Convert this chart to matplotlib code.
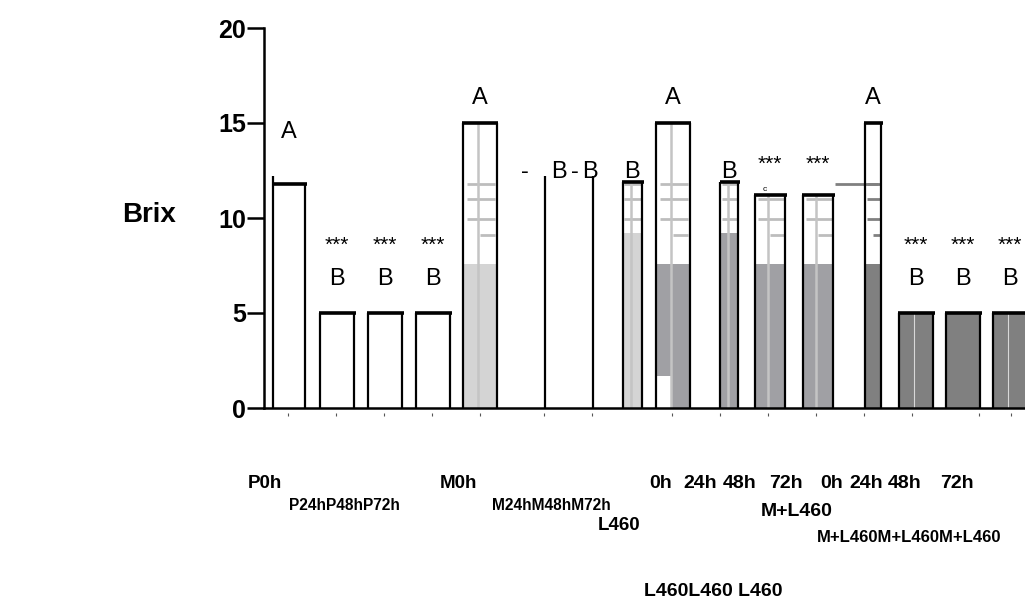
import matplotlib
matplotlib.use("Agg")
import matplotlib.pyplot as plt
from matplotlib.transforms import blended_transform_factory

# ---------------- data ----------------
groups = ["P0h", "P24h", "P48h", "P72h", "M0h", "M24h", "M48h",
          "L460 0h", "L460 24h", "L460 48h", "L460 72h",
          "M+L460 0h", "M+L460 24h", "M+L460 48h", "M+L460 72h", "extra"]
outline_top = [11.8, 5.0, 5.0, 5.0, 15.0, 12.2, 12.2,
               11.9, 15.0, 11.9, 11.2, 11.2, 15.0, 5.0, 5.0, 5.0]
fill_top = [0, 0, 0, 0, 7.6, 0, 0,
            9.2, 7.6, 9.2, 7.6, 7.6, 7.6, 5.0, 5.0, 5.0]
fill_color = ["white", "white", "white", "white", "#d4d4d4", "white", "white",
              "#d4d4d4", "#a0a0a4", "#a0a0a4", "#a0a0a4", "#a0a0a4",
              "#808080", "#808080", "#808080", "#808080"]
has_cap = [True, True, True, True, True, False, False,
           True, True, True, True, True, True, True, True, True]
grid_levels = [11.8, 11.0, 9.95, 9.1]
letters = ["A", "B", "B", "B", "A", "", "", "B", "A", "B", "", "", "A", "B", "B", "B"]
stars = ["", "***", "***", "***", "", "", "", "", "", "", "***", "***", "", "***", "***", "***"]
yticks = [0, 5, 10, 15, 20]
time_labels = ["0h", "24h", "48h", "72h", "0h", "24h", "48h", "72h"]

# ---------------- layout ----------------
W, H = 1025, 601
xpos = [0.52, 1.52, 2.52, 3.52, 4.5, 5.85, 6.85, 7.67, 8.52, 9.69,
        10.54, 11.54, 12.69, 13.58, 14.56, 15.54]
widths = [0.67, 0.7, 0.7, 0.7, 0.69, 0.0, 0.0, 0.4, 0.69, 0.36,
          0.63, 0.63, 0.33, 0.7, 0.7, 0.7]
xtick_pos = [0.5, 1.5, 2.5, 3.5, 4.5, 5.83, 6.83, 8.5, 9.5, 10.5,
             11.5, 12.5, 13.5, 14.9, 15.56]
time_label_px = [649, 683, 723, 769, 820, 849, 888, 940]

fig = plt.figure(figsize=(W / 100, H / 100), dpi=100)
ax = fig.add_axes([264 / W, (H - 408) / H, (W - 264) / W, 380 / H])
ax.set_xlim(0, (W - 264) / 48)
ax.set_ylim(0, 20)

FONT = "Liberation Sans"
lw_edge = 1.6
for i, (x, w) in enumerate(zip(xpos, widths)):
    top = outline_top[i]
    if w == 0:
        ax.vlines(x, 0, top, color="black", lw=lw_edge, zorder=3)
        continue
    left = x - w / 2
    if fill_top[i] > 0:
        ax.bar(x, fill_top[i], width=w, color=fill_color[i], edgecolor="none", zorder=1)
        lc = "#bdbdbd" if fill_color[i] != "#808080" else "#808080"
        if top > fill_top[i]:
            for k, lev in enumerate(grid_levels):
                if fill_top[i] < lev < top:
                    x0 = left + (w * 0.5 if k == 3 else w * 0.1)
                    ax.hlines(lev, x0, left + w * 0.95, color=lc, lw=2.0, zorder=2)
        if i in (13, 15):
            ax.vlines(x - w * 0.05, 0, top, color="#d8d8d8", lw=0.8, zorder=2)
        elif i not in (12, 14):
            ax.vlines(x - w * 0.05, 0, top, color="#c4c4c4", lw=1.8, zorder=2)
    ax.vlines([left, left + w], 0, top, color="black", lw=lw_edge, zorder=3)
    if has_cap[i]:
        ax.hlines(top, left - 0.02, left + w + 0.04, color="black", lw=2.6, zorder=4)

# left edge of first bar rises a little above its cap
ax.vlines(xpos[0] - widths[0] / 2, outline_top[0], 12.2, color="black", lw=lw_edge, zorder=3)
# extra long gray guide line at the M+L460 24h bar
ax.hlines(grid_levels[0], xpos[12] - 0.8, xpos[12] + 0.1, color="#808080", lw=2.0, zorder=2)
# white notch at bottom-left of L460 24h bar
ax.bar(xpos[8] - widths[8] / 4 - 0.02, 1.7, width=widths[8] / 2 - 0.06,
       color="white", edgecolor="none", zorder=1.5)

# annotations
for i, x in enumerate(xpos):
    if letters[i]:
        if i == 0:
            ly = 14.5
        elif i in (4, 8, 12):
            ly = 16.3
        elif i in (1, 2, 3, 13, 14, 15):
            ly = 6.8
        else:
            ly = 12.4
        ax.text(x, ly, letters[i], ha="center", va="center", fontsize=17, family=FONT)
    if stars[i]:
        sy = 8.55 if i in (1, 2, 3, 13, 14, 15) else 12.85
        ax.text(x, sy, stars[i], ha="center", va="center", fontsize=15, family=FONT)
for px, s in [(525, "-"), (559, "B"), (575, "-"), (590, "B")]:
    ax.text((px - 264) / 48, 12.4, s, ha="center", va="center", fontsize=17, family=FONT)
ax.text(xpos[10] - 0.1, 11.3, "c", ha="center", va="bottom", fontsize=6, family=FONT)

# axes styling
for s in ("top", "right"):
    ax.spines[s].set_visible(False)
ax.spines["left"].set_linewidth(1.8)
ax.spines["bottom"].set_linewidth(1.8)
ax.set_yticks(yticks)
ax.set_yticklabels([str(t) for t in yticks], fontsize=18, fontweight="bold",
                   family=FONT)
ax.tick_params(axis="y", length=12, width=1.8, pad=1)
ax.set_xticks([])

trans = blended_transform_factory(ax.transData, ax.transAxes)
ax.vlines(xtick_pos, -0.012, -0.022, color="#555555", lw=0.8, transform=trans, clip_on=False)

# labels (figure pixel positions)
def ftext(px, py, s, size, ha="left"):
    fig.text(px / W, 1 - py / H, s, fontsize=size, fontweight="bold",
             family=FONT, ha=ha, va="center")

ftext(122, 215, "Brix", 20)
ftext(248, 484, "P0h", 13.5)
ftext(289, 505, "P24hP48hP72h", 11.2)
ftext(440, 484, "M0h", 13.5)
ftext(492, 505, "M24hM48hM72h", 11.2)
ftext(598, 526, "L460", 13.5)
for px, s in zip(time_label_px, time_labels):
    ftext(px, 484, s, 14)
ftext(761, 512, "M+L460", 14)
ftext(817, 537, "M+L460M+L460M+L460", 12)
ftext(644, 592, "L460L460 L460", 14)

fig.savefig("out.png", dpi=100)
